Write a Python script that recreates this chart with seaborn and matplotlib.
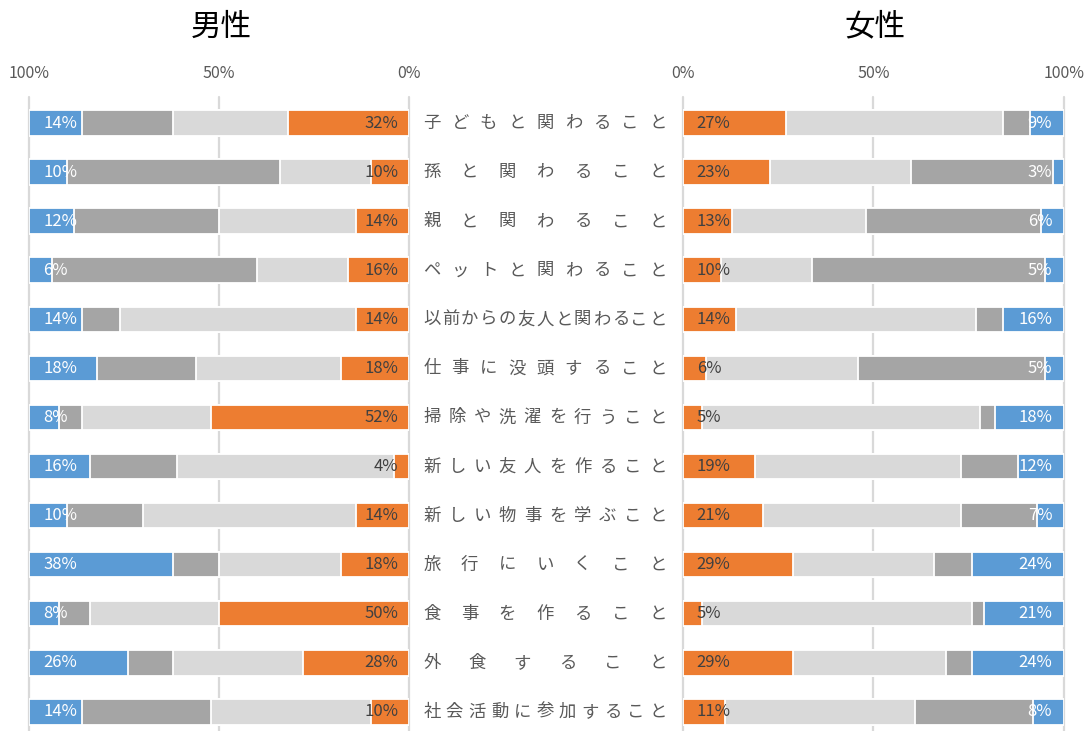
import matplotlib
matplotlib.use('Agg')
import matplotlib.pyplot as plt
import matplotlib.transforms as mtransforms
import seaborn as sns
import pandas as pd

# Items (rows, top to bottom)
items = ['子どもと関わること', '孫と関わること', '親と関わること', 'ペットと関わること',
         '以前からの友人と関わること', '仕事に没頭すること', '掃除や洗濯を行うこと',
         '新しい友人を作ること', '新しい物事を学ぶこと', '旅行にいくこと',
         '食事を作ること', '外食すること', '社会活動に参加すること']

# Male shares (%), from the centre outwards
male_orange = [32, 10, 14, 16, 14, 18, 52, 4, 14, 18, 50, 28, 10]
male_light = [30, 24, 36, 24, 62, 38, 34, 57, 56, 32, 34, 34, 42]
male_dark = [24, 56, 38, 54, 10, 26, 6, 23, 20, 12, 8, 12, 34]
male_blue = [14, 10, 12, 6, 14, 18, 8, 16, 10, 38, 8, 26, 14]

# Female shares (%), from the centre outwards
female_orange = [27, 23, 13, 10, 14, 6, 5, 19, 21, 29, 5, 29, 11]
female_light = [57, 37, 35, 24, 63, 40, 73, 54, 52, 37, 71, 40, 50]
female_dark = [7, 37, 46, 61, 7, 49, 4, 15, 20, 10, 3, 7, 31]
female_blue = [9, 3, 6, 5, 16, 5, 18, 12, 7, 24, 21, 24, 8]

tick_values = [0, 50, 100]
tick_labels = ['0%', '50%', '100%']

colors = ['#ED7D31', '#D9D9D9', '#A5A5A5', '#5B9BD5']

sns.set_theme(style='white')
plt.rcParams['font.family'] = ['Noto Sans CJK JP', 'DejaVu Sans']

W, H = 1088, 731
fig = plt.figure(figsize=(W / 100, H / 100), dpi=100)
ax_m = fig.add_axes([28.7 / W, 0, 380.6 / W, 634 / H])
ax_f = fig.add_axes([682.7 / W, 0, 381.3 / W, 634 / H])


def stacked(ax, parts):
    df = pd.DataFrame({'item': items})
    cum = 0
    layers = []
    for p in parts:
        cum = cum + pd.Series(p)
        layers.append(cum)
    # draw the widest cumulative bar first, then the shorter ones on top
    for layer, color in reversed(list(zip(layers, colors))):
        df['v'] = layer
        sns.barplot(data=df, x='v', y='item', ax=ax, color=color, saturation=1,
                    width=0.52, edgecolor='white', linewidth=1.3,
                    errorbar=None, orient='h')
    ax.set_xlabel('')
    ax.set_ylabel('')
    ax.set_ylim(12.39, -0.53)
    for x in tick_values:
        ax.axvline(x, color='#D9D9D9', lw=1.6, zorder=0, clip_on=False)
    ax.xaxis.tick_top()
    ax.set_xticks(tick_values)
    ax.set_xticklabels(tick_labels)
    ax.tick_params(axis='x', length=0, pad=11, labelsize=11.5, labelcolor='#595959')
    ax.tick_params(axis='y', left=False, labelleft=False)
    for s in ax.spines.values():
        s.set_visible(False)


stacked(ax_m, [male_orange, male_light, male_dark, male_blue])
ax_m.set_xlim(100, 0)
stacked(ax_f, [female_orange, female_light, female_dark, female_blue])
ax_f.set_xlim(0, 100)

# value labels on the orange and blue segments
for i in range(len(items)):
    ax_m.text(2.9, i, f'{male_orange[i]}%', ha='right', va='center',
              fontsize=12, color='#404040')
    ax_m.text(96.2, i, f'{male_blue[i]}%', ha='left', va='center',
              fontsize=12, color='white')
    ax_f.text(3.7, i, f'{female_orange[i]}%', ha='left', va='center',
              fontsize=12, color='#404040')
    ax_f.text(96.9, i, f'{female_blue[i]}%', ha='right', va='center',
              fontsize=12, color='white')

# category labels, justified between the two panels
trans = mtransforms.blended_transform_factory(fig.transFigure, ax_m.transData)
x0, x1 = 432 / W, 658 / W
for i, name in enumerate(items):
    n = len(name)
    for k, ch in enumerate(name):
        x = x0 + k * (x1 - x0) / (n - 1)
        fig.text(x, i, ch, transform=trans, ha='center', va='center',
                 fontsize=12.5, color='#595959')

fig.text(221.7 / W, 1 - 27 / H, '男性', ha='center', va='center', fontsize=22, color='black')
fig.text(875 / W, 1 - 27 / H, '女性', ha='center', va='center', fontsize=22, color='black')

fig.savefig('out.png', dpi=100)
